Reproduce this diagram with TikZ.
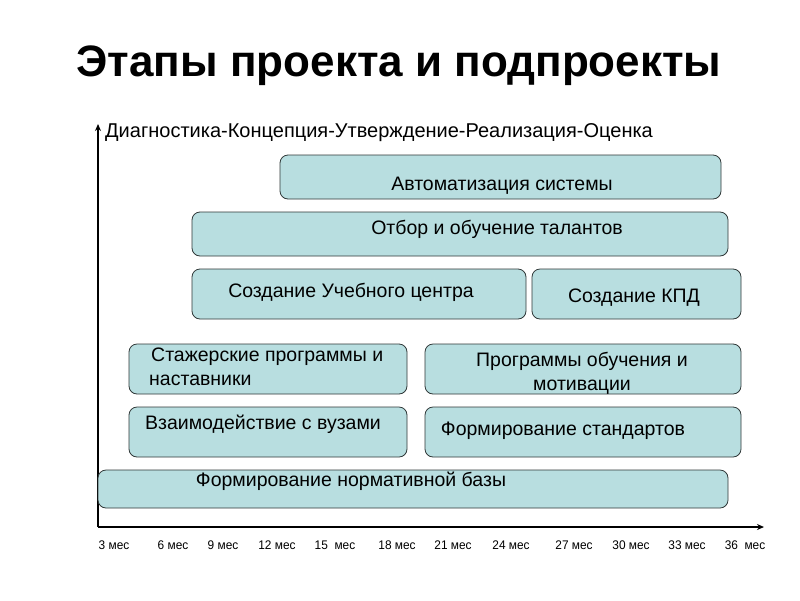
\documentclass[tikz,border=0pt]{standalone}
\usepackage{fontspec}
\setmainfont{Liberation Sans}
\usetikzlibrary{arrows.meta}
\definecolor{boxfill}{HTML}{B8DEE0}
\definecolor{boxline}{HTML}{303838}
\tikzset{
  bar/.style={draw=boxline, line width=0.8pt, fill=boxfill, rounded corners=8pt, inner sep=0pt},
  bartext/.style={font=\fontsize{19.5}{24}\selectfont, inner sep=0pt, text=black},
  tick/.style={font=\fontsize{12.5}{14}\selectfont, inner sep=0pt, xscale=0.95},
  axisline/.style={line width=1.8pt, -{Stealth[length=7pt,width=6pt]}}
}
\begin{document}
\begin{tikzpicture}[x=1pt,y=-1pt]
\useasboundingbox[fill=white] (0,0) rectangle (800,600);
% title
\node[font=\bfseries\fontsize{44}{50}\selectfont, inner sep=0pt] (title) at (399,66) {Этапы проекта и подпроекты};
% axes
\coordinate (org) at (98,527);
\coordinate (ytop) at (98,124);
\coordinate (xend) at (764,527);
\draw[axisline] (org) -- (ytop);
\draw[axisline] (org) -- (xend);
\node[font=\fontsize{20}{24}\selectfont, anchor=west, inner sep=0pt] (phases) at (105,133) {Диагностика-Концепция-Утверждение-Реализация-Оценка};
% bars
\node[bar, minimum width=441pt, minimum height=44pt] (b1) at (500.5,177) {};
\node[bartext] (t1) at (502,186) {Автоматизация системы};
\node[bar, minimum width=536pt, minimum height=44pt] (b2) at (460,234) {};
\node[bartext] (t2) at (497,229) {Отбор и обучение талантов};
\node[bar, minimum width=334pt, minimum height=50pt] (b3) at (359,294) {};
\node[bartext] (t3) at (351,292) {Создание Учебного центра};
\node[bar, minimum width=209pt, minimum height=50pt] (b4) at (636.5,294) {};
\node[bartext] (t4) at (634,298) {Создание КПД};
\node[bar, minimum width=278pt, minimum height=50pt] (b5) at (268,369) {};
\node[bartext, align=left, anchor=west] (t5) at (149,367) {\hspace*{2pt}Стажерские программы и\\наставники};
\node[bar, minimum width=316pt, minimum height=50pt] (b6) at (583,369) {};
\node[bartext, align=center] (t6) at (582,373) {Программы обучения и\\мотивации};
\node[bar, minimum width=278pt, minimum height=50pt] (b7) at (268,432) {};
\node[bartext] (t7) at (263,424) {Взаимодействие с вузами};
\node[bar, minimum width=316pt, minimum height=50pt] (b8) at (583,432) {};
\node[bartext] (t8) at (563,431) {Формирование стандартов};
\node[bar, minimum width=630pt, minimum height=38pt] (b9) at (413,489) {};
\node[bartext] (t9) at (351,481) {Формирование нормативной базы};
% ticks
\node[tick] (m3) at (114,545) {3 мес};
\node[tick] (m6) at (173,545) {6 мес};
\node[tick] (m9) at (223,545) {9 мес};
\node[tick] (m12) at (277,545) {12 мес};
\node[tick] (m15) at (335,545) {15\ \ мес};
\node[tick] (m18) at (397,545) {18 мес};
\node[tick] (m21) at (453,545) {21 мес};
\node[tick] (m24) at (511,545) {24 мес};
\node[tick] (m27) at (574,545) {27 мес};
\node[tick] (m30) at (631,545) {30 мес};
\node[tick] (m33) at (687,545) {33 мес};
\node[tick] (m36) at (745,545) {36\ \ мес};
\end{tikzpicture}
\end{document}
